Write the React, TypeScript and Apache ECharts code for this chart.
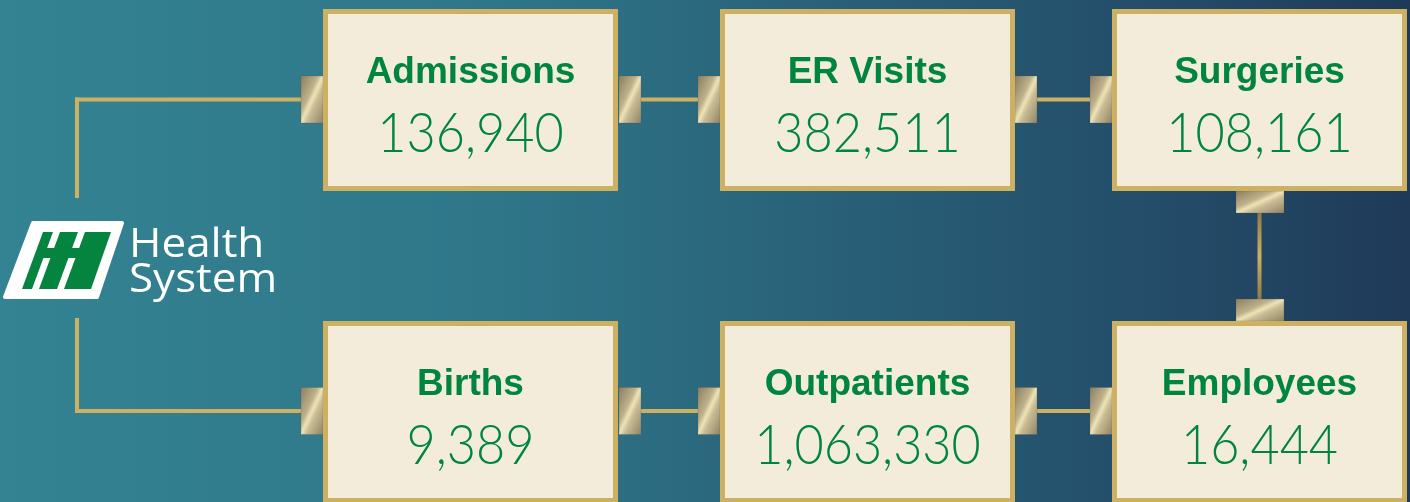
import React, { useEffect, useRef } from "react";
import * as echarts from "echarts";

// ---- data ----
const TITLES = ["Admissions", "ER Visits", "Surgeries", "Births", "Outpatients", "Employees"];
const VALUES = [136940, 382511, 108161, 9389, 1063330, 16444];
const BRAND_LINES = ["Health", "System"];

// ---- layout ----
const W = 1410;
const H = 502;
const COL_X = [323, 720, 1112];
const ROW_Y = [9, 321];
const BOX_W = 295;
const BOX_H = 182;
const BORDER = 5;
const LINE_Y = [99.5, 411];

const GREEN = "#00853F";
const GOLD = "#CCB163";
const CREAM = "#F3ECDA";

const tabFill = () =>
  new echarts.graphic.LinearGradient(0, 0, 1, 1, [
    { offset: 0, color: "#8C7E60" },
    { offset: 0.38, color: "#BDB08A" },
    { offset: 0.5, color: "#EEE3B6" },
    { offset: 0.62, color: "#C9BC94" },
    { offset: 1, color: "#908365" },
  ]);

function buildGraphics() {
  const els: any[] = [];
  // background
  els.push({
    type: "rect",
    shape: { x: 0, y: 0, width: W, height: H },
    style: {
      fill: new echarts.graphic.LinearGradient(0, 0, 1, 0, [
        { offset: 0, color: "#338392" },
        { offset: 0.35, color: "#2F7689" },
        { offset: 0.65, color: "#275B74" },
        { offset: 0.85, color: "#234A66" },
        { offset: 1, color: "#1F3A59" },
      ]),
    },
    silent: true,
  });

  const hline = (x1: number, x2: number, y: number) =>
    els.push({ type: "rect", shape: { x: x1, y: y - 2, width: x2 - x1, height: 4 }, style: { fill: GOLD } });
  const vline = (x: number, y1: number, y2: number, grad = false) =>
    els.push({
      type: "rect",
      shape: { x: x - 2, y: y1, width: 4, height: y2 - y1 },
      style: {
        fill: grad
          ? new echarts.graphic.LinearGradient(0, 0, 0, 1, [
              { offset: 0, color: "#8E7A48" },
              { offset: 0.5, color: "#CDB263" },
              { offset: 1, color: "#8E7A48" },
            ])
          : GOLD,
      },
    });
  const tab = (x: number, y: number, w: number, h: number) =>
    els.push({
      type: "rect",
      shape: { x, y, width: w, height: h },
      style: { fill: tabFill(), stroke: "rgba(90,80,60,0.35)", lineWidth: 0.6 },
    });

  // left bracket
  hline(75, 301, LINE_Y[0]);
  hline(75, 301, LINE_Y[1]);
  vline(77, LINE_Y[0] - 2, 198);
  vline(77, 318, LINE_Y[1] + 2);

  // horizontal connectors
  LINE_Y.forEach((ly) => {
    hline(641, 698, ly);
    hline(1037, 1090, ly);
    const ty = ly - 23.5;
    [301, 619, 698, 1015, 1090].forEach((tx) => tab(tx, ty, 22, 47));
  });

  // vertical connector
  vline(1259.5, 213, 299, true);
  tab(1236, 191, 48, 22);
  tab(1236, 299, 48, 22);

  // boxes
  TITLES.forEach((title, i) => {
    const r = i < 3 ? 0 : 1;
    const c = i % 3;
    const x = COL_X[c];
    const y = ROW_Y[r];
    const cx = x + BOX_W / 2;
    els.push({ type: "rect", shape: { x, y, width: BOX_W, height: BOX_H }, style: { fill: GOLD } });
    els.push({
      type: "rect",
      shape: { x: x + BORDER, y: y + BORDER, width: BOX_W - 2 * BORDER, height: BOX_H - 2 * BORDER },
      style: { fill: CREAM },
    });
    els.push({
      type: "text",
      x: cx,
      y: y + 61.5,
      style: {
        text: title,
        fill: GREEN,
        font: "bold 37px 'Liberation Sans', Arial, sans-serif",
        align: "center",
        verticalAlign: "middle",
      },
    });
    els.push({
      type: "text",
      x: cx,
      y: y + 120.5,
      scaleX: 0.9,
      style: {
        text: VALUES[i].toLocaleString("en-US"),
        fill: GREEN,
        font: "300 56px Lato, Roboto, sans-serif",
        align: "center",
        verticalAlign: "middle",
      },
    });
  });

  // logo mark
  els.push({
    type: "polygon",
    shape: { points: [[33, 223], [122, 223], [97, 297], [5, 297]] },
    style: { fill: "#FFFFFF", stroke: "#FFFFFF", lineWidth: 4, lineJoin: "round" },
  });
  els.push({
    type: "polygon",
    shape: { points: [[43, 232], [111, 232], [91, 289], [22, 289]] },
    style: { fill: "#04843F" },
  });
  const gap = (xTop: number, y1: number, y2: number) => {
    const k = 21 / 57;
    const a = xTop - (y1 - 232) * k;
    const b = xTop - (y2 - 232) * k;
    els.push({
      type: "polygon",
      shape: { points: [[a, y1], [a + 7, y1], [b + 7, y2], [b, y2]] },
      style: { fill: "#FFFFFF" },
    });
  };
  [53, 78].forEach((gx) => {
    gap(gx, 231, 248);
    gap(gx, 258, 290);
  });

  // brand text
  els.push({
    type: "text",
    x: 129,
    y: 258.5,
    scaleX: 1.1,
    originX: 0,
    originY: 0,
    style: {
      text: BRAND_LINES.join("\n"),
      fill: "#FFFFFF",
      font: "40px 'Open Sans', 'Noto Sans', sans-serif",
      lineHeight: 35,
      align: "left",
      verticalAlign: "middle",
    },
  });

  return els;
}

export default function App() {
  const ref = useRef<HTMLDivElement>(null);
  useEffect(() => {
    if (!ref.current) return;
    const chart = echarts.init(ref.current, undefined, { renderer: "svg", width: W, height: H });
    chart.setOption({
      animation: false,
      graphic: { elements: buildGraphics() },
    });
    return () => chart.dispose();
  }, []);
  return (
    <div
      ref={ref}
      style={{ position: "fixed", left: 0, top: 0, width: W, height: H, overflow: "hidden" }}
    />
  );
}
